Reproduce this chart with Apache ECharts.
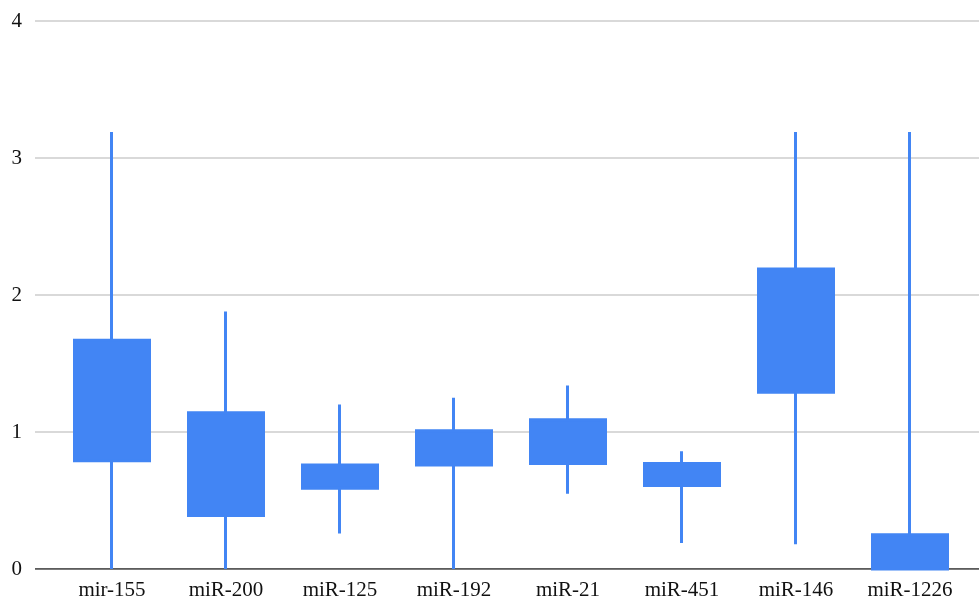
<!DOCTYPE html>
<html>
<head>
<meta charset="utf-8">
<script src="https://cdn.jsdelivr.net/npm/echarts@6/dist/echarts.min.js"></script>
<style>html,body{margin:0;padding:0;background:#fff}#c{width:979px;height:601px}</style>
</head>
<body>
<div id="c"></div>
<script>
const categories = ['mir-155','miR-200','miR-125','miR-192','miR-21','miR-451','miR-146','miR-1226'];
// [open(box bottom), close(box top), low, high]
const boxLow  = [0.79, 0.39, 0.59, 0.76, 0.77, 0.61, 1.29, 0.00];
const boxHigh = [1.67, 1.14, 0.76, 1.01, 1.09, 0.77, 2.19, 0.25];
const whiskerLow  = [0.00, 0.00, 0.26, 0.00, 0.55, 0.19, 0.18, 0.00];
const whiskerHigh = [3.19, 1.88, 1.20, 1.25, 1.34, 0.86, 3.19, 3.19];
const yTicks = [0, 1, 2, 3, 4];

const candleData = categories.map((c, i) => [boxLow[i], boxHigh[i], whiskerLow[i], whiskerHigh[i]]);
const FONT = '"Liberation Serif", "DejaVu Serif", serif';
const chart = echarts.init(document.getElementById('c'));
chart.setOption({
  animation: false,
  grid: [
    {left: 35, right: 0, top: 21, bottom: 32},
    {left: 55, right: 12, top: 21, bottom: 32}
  ],
  xAxis: [
    {gridIndex: 0, type: 'value', min: 0, max: 1, show: false},
    {gridIndex: 1, type: 'category', data: categories, boundaryGap: true,
     axisLine: {show: false}, axisTick: {show: false},
     axisLabel: {color: '#111', fontFamily: FONT, fontSize: 21, margin: 11}}
  ],
  yAxis: [
    {gridIndex: 0, type: 'value', min: yTicks[0], max: yTicks[yTicks.length-1], interval: 1,
     axisLine: {show: false}, axisTick: {show: false},
     axisLabel: {color: '#111', fontFamily: FONT, fontSize: 21, margin: 13},
     splitLine: {lineStyle: {color: '#cccccc', width: 1.5}}},
    {gridIndex: 1, type: 'value', min: yTicks[0], max: yTicks[yTicks.length-1], interval: 1, show: false}
  ],
  series: [
    {type: 'line', xAxisIndex: 0, yAxisIndex: 0, data: [[0,0],[1,0]], symbol: 'none',
     lineStyle: {color: '#333', width: 1.5}, z: 1, silent: true},
    {type: 'candlestick', xAxisIndex: 1, yAxisIndex: 1, data: candleData, barWidth: 76, z: 3,
     itemStyle: {color: '#4285F4', color0: '#4285F4', borderColor: '#4285F4', borderColor0: '#4285F4', borderWidth: 3}}
  ]
});
</script>
</body>
</html>
